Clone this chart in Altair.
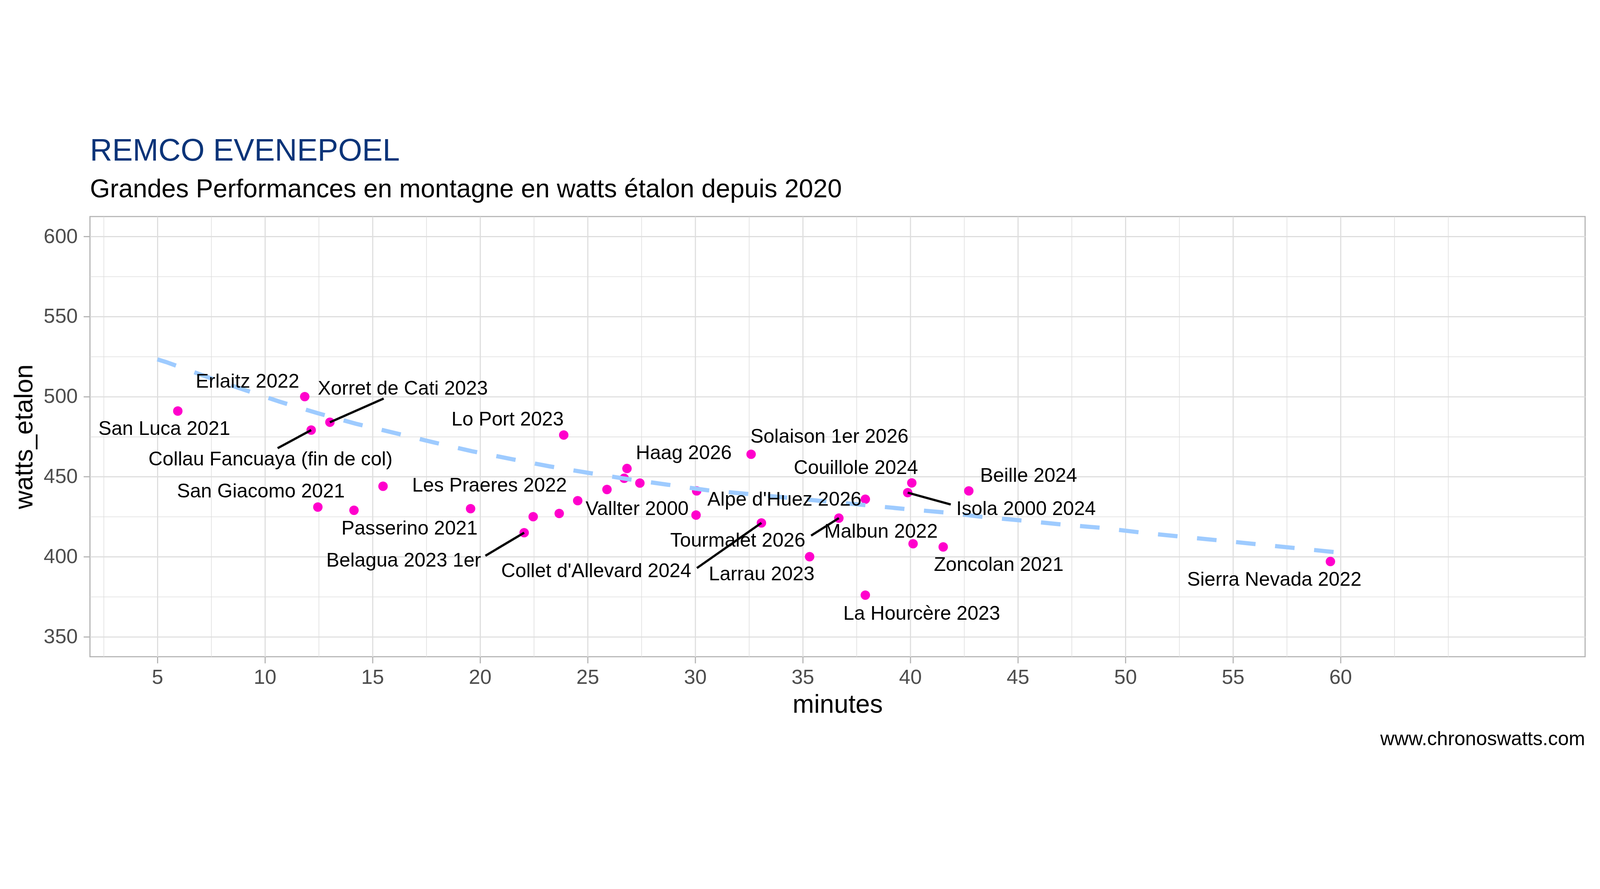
import altair as alt
import pandas as pd

# climbs: duration (minutes) and power (watts étalon)
climb_minutes = [5.95, 11.85, 13.02, 12.15, 15.49, 12.46, 14.14, 19.56, 22.05, 23.89,
                 26.83, 26.70, 27.43, 25.90, 24.54, 23.68, 22.47, 30.07, 30.04, 32.60,
                 33.08, 36.68, 35.32, 37.91, 40.07, 39.88, 42.72, 40.13, 41.53, 37.91,
                 59.53]
climb_watts = [491.0, 500.0, 484.0, 479.1, 444.0, 431.0, 429.0, 430.0, 415.0, 476.0,
               455.1, 449.0, 446.0, 442.0, 435.0, 427.0, 425.0, 441.1, 426.0, 464.0,
               421.1, 424.1, 400.0, 435.9, 446.1, 440.0, 441.1, 408.1, 406.1, 376.0,
               397.0]
climb_names = ["San Luca 2021", "Erlaitz 2022", "Xorret de Cati 2023",
               "Collau Fancuaya (fin de col)", "", "San Giacomo 2021", "Passerino 2021",
               "Les Praeres 2022", "Belagua 2023 1er", "Lo Port 2023", "Haag 2026", "", "",
               "", "Vallter 2000", "", "", "", "", "Solaison 1er 2026",
               "Collet d'Allevard 2024", "Tourmalet 2026", "Larrau 2023", "Alpe d'Huez 2026",
               "Couillole 2024", "Isola 2000 2024", "Beille 2024", "Malbun 2022",
               "Zoncolan 2021", "La Hourcère 2023", "Sierra Nevada 2022"]

# where the (repelled) labels sit, in data units
label_names = ["San Luca 2021", "Erlaitz 2022", "Xorret de Cati 2023",
               "Collau Fancuaya (fin de col)", "San Giacomo 2021", "Passerino 2021",
               "Belagua 2023 1er", "Lo Port 2023", "Les Praeres 2022", "Haag 2026",
               "Solaison 1er 2026", "Couillole 2024", "Beille 2024", "Isola 2000 2024",
               "Vallter 2000", "Alpe d'Huez 2026", "Tourmalet 2026", "Malbun 2022",
               "Collet d'Allevard 2024", "Larrau 2023", "Zoncolan 2021",
               "La Hourcère 2023", "Sierra Nevada 2022"]
label_minutes = [5.32, 9.19, 16.41, 10.26, 9.81, 16.72, 16.45, 21.28, 20.44, 29.47,
                 36.24, 37.47, 45.5, 45.38, 27.30, 34.15, 31.98, 38.64, 25.40, 33.09,
                 44.11, 40.53, 56.92]
label_watts = [480.55, 510.0, 505.5, 461.3, 441.3, 418.3, 398.2, 486.2, 445.1, 465.2,
               475.65, 456.1, 451.25, 430.5, 430.5, 436.15, 410.6, 416.25, 391.5, 389.7,
               395.6, 365.1, 386.3]

# leader segments: from the climb to the end point near its label
leader_names = ["Xorret de Cati 2023", "Collau Fancuaya (fin de col)", "Belagua 2023 1er",
                "Collet d'Allevard 2024", "Tourmalet 2026", "Isola 2000 2024"]
leader_minutes_end = [15.52, 10.59, 20.25, 30.08, 35.39, 41.88]
leader_watts_end = [498.8, 467.8, 400.6, 392.9, 413.2, 432.6]

# smoothed trend (dashed line)
trend_minutes = [5.0, 5.41, 8.04, 10.67, 12.44, 14.22, 16.03, 17.82, 19.63, 21.43,
                 23.25, 25.07, 26.9, 28.72, 30.58, 32.47, 37.92, 39.78, 41.62, 43.46,
                 45.3, 47.14, 48.98, 50.82, 52.66, 54.5, 56.34, 58.18, 60.0]
trend_watts = [523.3, 521.6, 508.8, 496.9, 489.7, 483.1, 477.3, 471.5, 465.9, 461.05,
               456.4, 452.3, 448.4, 445.0, 441.5, 439.2, 432.2, 429.8, 427.6, 424.7,
               422.5, 420.0, 417.9, 414.95, 412.45, 410.0, 407.5, 405.0, 402.5]

x_ticks = [2.5, 5, 7.5, 10, 12.5, 15, 17.5, 20, 22.5, 25, 27.5, 30, 32.5, 35, 37.5,
           40, 42.5, 45, 47.5, 50, 52.5, 55, 57.5, 60, 62.5, 65]
y_ticks = [350, 375, 400, 425, 450, 475, 500, 525, 550, 575, 600]

FONT = "Liberation Sans"
W, H = 5338, 1571

climbs = pd.DataFrame({"minutes": climb_minutes, "watts_etalon": climb_watts,
                       "name": climb_names})
labels = pd.DataFrame({"minutes": label_minutes, "watts_etalon": label_watts,
                       "name": label_names})
pos = climbs[climbs["name"] != ""].set_index("name")
leaders = pd.DataFrame({
    "minutes": [pos.loc[n, "minutes"] for n in leader_names],
    "watts_etalon": [pos.loc[n, "watts_etalon"] for n in leader_names],
    "minutes_end": leader_minutes_end,
    "watts_end": leader_watts_end,
})
trend = pd.DataFrame({"minutes": trend_minutes, "watts_etalon": trend_watts})

major_x = "datum.value % 5 === 0 && datum.value <= 60"
major_y = "datum.value % 50 === 0"

x_enc = alt.X(
    "minutes:Q",
    title="minutes",
    scale=alt.Scale(domain=[1.866, 71.37], nice=False, zero=False),
    axis=alt.Axis(
        values=x_ticks,
        labelExpr=f"({major_x}) ? datum.label : ''",
        labelFlush=False,
        tickOpacity={"condition": {"test": major_x, "value": 1}, "value": 0},
        gridWidth={"condition": {"test": major_x, "value": 4}, "value": 2.2},
        labelPadding=15,
        titlePadding=15,
    ),
)
y_enc = alt.Y(
    "watts_etalon:Q",
    title="watts_etalon",
    scale=alt.Scale(domain=[337.5, 612.5], nice=False, zero=False),
    axis=alt.Axis(
        values=y_ticks,
        labelExpr=f"({major_y}) ? datum.label : ''",
        tickOpacity={"condition": {"test": major_y, "value": 1}, "value": 0},
        gridWidth={"condition": {"test": major_y, "value": 4}, "value": 2.2},
        labelPadding=21,
        titlePadding=21,
    ),
)

points = alt.Chart(climbs).mark_circle(size=1134, opacity=1, color="#FF00CC").encode(
    x=x_enc, y=y_enc
)

line = alt.Chart(trend).mark_line(
    color="#9ECBFF", strokeWidth=15, strokeDash=[70, 70], strokeCap="butt"
).encode(x=x_enc, y=y_enc, order="minutes:Q")

segments = alt.Chart(leaders).mark_rule(color="black", strokeWidth=8).encode(
    x=x_enc, y=y_enc, x2="minutes_end:Q", y2="watts_end:Q"
)

texts = alt.Chart(labels).mark_text(
    font=FONT, fontSize=70, color="black", align="center", baseline="middle", dy=4
).encode(x=x_enc, y=y_enc, text="name:N")

caption = alt.Chart(pd.DataFrame({"caption": ["www.chronoswatts.com"]})).mark_text(
    font=FONT, fontSize=70, color="black", align="right", baseline="alphabetic"
).encode(x=alt.value(W), y=alt.value(H + 316), text="caption:N")

chart = alt.layer(points, line, segments, texts, caption).properties(
    width=W,
    height=H,
    autosize=alt.AutoSizeParams(type="none"),
    padding={"left": 310, "top": 316, "right": 42, "bottom": 372},
    title=alt.TitleParams(
        text="REMCO EVENEPOEL",
        subtitle="Grandes Performances en montagne en watts étalon depuis 2020",
        anchor="start",
        frame="group",
        font=FONT,
        fontSize=110,
        fontWeight="normal",
        color="#0B3479",
        subtitleFont=FONT,
        subtitleFontSize=92,
        subtitleColor="black",
        subtitlePadding=35,
        offset=49,
    ),
).configure_view(
    stroke="#B3B3B3", strokeWidth=4
).configure_axis(
    domain=False,
    gridColor="#DEDEDE",
    tickColor="#B3B3B3",
    tickWidth=4,
    tickSize=23,
    labelFont=FONT,
    labelFontSize=73,
    labelColor="#4D4D4D",
    titleFont=FONT,
    titleFontSize=92,
    titleFontWeight="normal",
    titleColor="black",
)

chart.save("out.html", embed_options={"renderer": "svg", "actions": False})
